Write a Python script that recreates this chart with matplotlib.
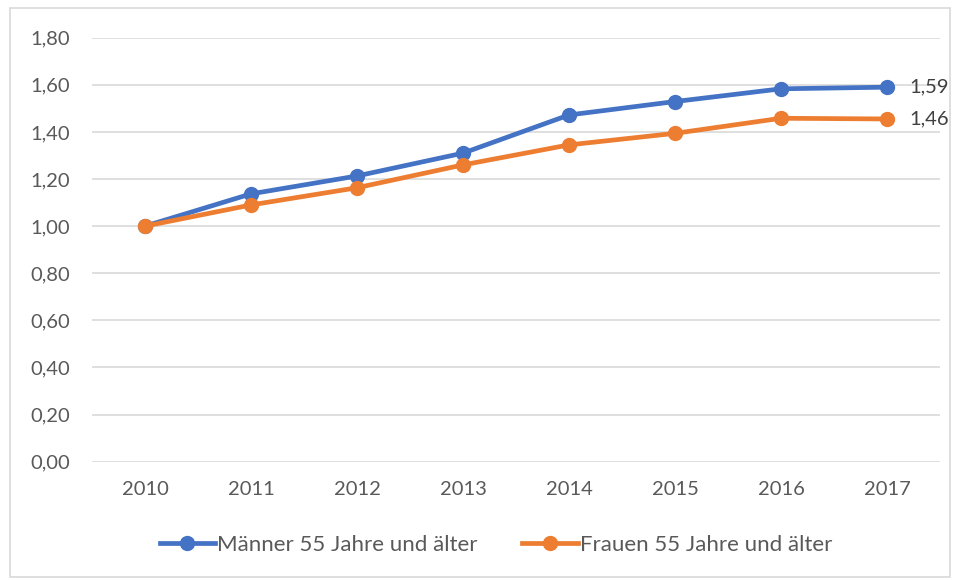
import matplotlib
matplotlib.use("Agg")
import matplotlib.pyplot as plt
from matplotlib.patches import Rectangle
from matplotlib.ticker import FuncFormatter

plt.rcParams["font.family"] = ["Lato", "DejaVu Sans"]

years = ["2010", "2011", "2012", "2013", "2014", "2015", "2016", "2017"]
maenner = [1.00, 1.137, 1.213, 1.31, 1.472, 1.529, 1.583, 1.59]
frauen = [1.00, 1.09, 1.163, 1.26, 1.345, 1.394, 1.458, 1.455]
labels = ["Männer 55 Jahre und älter", "Frauen 55 Jahre und älter"]

BLUE = "#4472C4"
ORANGE = "#ED7D31"
TXT = "#595959"
GRID = "#D9D9D9"

W, H = 959, 581
fig = plt.figure(figsize=(W / 100, H / 100), dpi=100)
ax = fig.add_axes([92 / W, 1 - 461.7 / H, (940 - 92) / W, (461.7 - 37.7) / H])

x = list(range(len(years)))
ax.plot(x, maenner, color=BLUE, lw=3.4, marker="o", ms=10, label=labels[0], zorder=3)
ax.plot(x, frauen, color=ORANGE, lw=3.4, marker="o", ms=10, label=labels[1], zorder=3)

ax.set_xlim(-0.5, len(years) - 0.5)
ax.set_ylim(0, 1.8)
ax.set_yticks([i * 0.2 for i in range(10)])
ax.yaxis.set_major_formatter(FuncFormatter(lambda v, p: f"{v:.2f}".replace(".", ",")))
ax.set_xticks(x)
ax.set_xticklabels(years)
ax.grid(axis="y", color=GRID, lw=1.2)
ax.set_axisbelow(True)
for s in ax.spines.values():
    s.set_visible(False)
ax.tick_params(length=0, labelsize=14.5, colors=TXT)
ax.tick_params(axis="x", pad=14)
ax.tick_params(axis="y", pad=16)

# end labels
for vals in (maenner, frauen):
    ax.annotate(f"{vals[-1]:.2f}".replace(".", ","), (x[-1], vals[-1]), xytext=(16, 0),
                textcoords="offset points", va="center", ha="left", fontsize=14.5, color="#404040")

leg = fig.legend(loc="center", bbox_to_anchor=(496 / W, 1 - 545 / H), ncol=2, frameon=False,
                 fontsize=16, handlelength=2.5, handletextpad=0.1, columnspacing=2.0,
                 labelcolor=TXT)

fig.patches.append(Rectangle((10 / W, 1 - 577 / H), 940 / W, 569 / H, transform=fig.transFigure,
                             fill=False, edgecolor=GRID, lw=1.2))

fig.savefig("out.png", dpi=100)
